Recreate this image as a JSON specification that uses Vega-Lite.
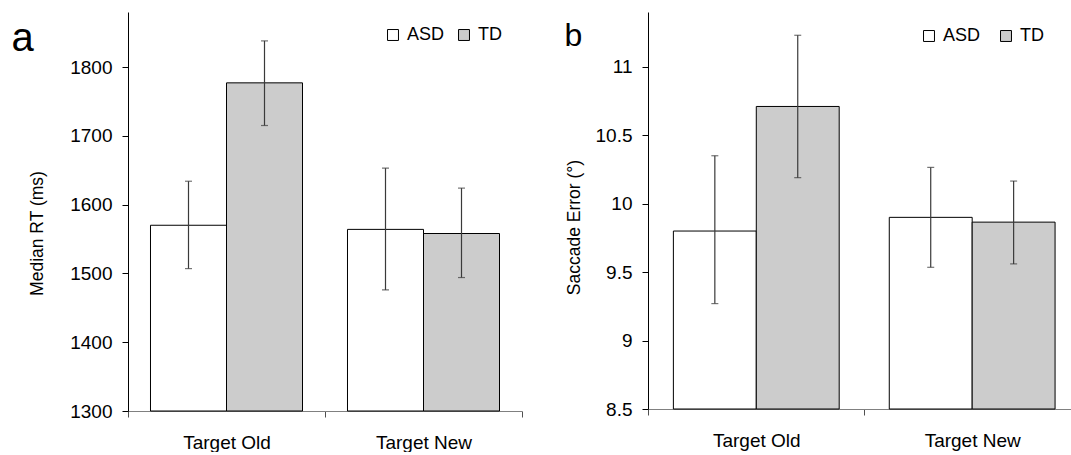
{
  "$schema": "https://vega.github.io/schema/vega-lite/v6.json",
  "padding": {"left": 11, "top": 12, "right": 0, "bottom": 0},
  "spacing": 41,
  "datasets": {
    "rt": [
      {"cond": "Target Old", "group": "ASD", "value": 1570, "lo": 1507, "hi": 1634},
      {"cond": "Target Old", "group": "TD", "value": 1777, "lo": 1715, "hi": 1838},
      {"cond": "Target New", "group": "ASD", "value": 1564, "lo": 1476, "hi": 1653},
      {"cond": "Target New", "group": "TD", "value": 1558, "lo": 1494, "hi": 1624}
    ],
    "se": [
      {"cond": "Target Old", "group": "ASD", "value": 9.80, "lo": 9.27, "hi": 10.35},
      {"cond": "Target Old", "group": "TD", "value": 10.71, "lo": 10.19, "hi": 11.23},
      {"cond": "Target New", "group": "ASD", "value": 9.90, "lo": 9.535, "hi": 10.265},
      {"cond": "Target New", "group": "TD", "value": 9.865, "lo": 9.56, "hi": 10.165}
    ]
  },
  "config": {
    "font": "Liberation Sans",
    "view": {"stroke": null},
    "axis": {
      "labelFont": "Liberation Sans", "labelFontSize": 19, "labelColor": "black",
      "titleFont": "Liberation Sans", "titleFontSize": 17.5, "titleFontWeight": "normal", "titleColor": "black",
      "grid": false, "tickColor": "black", "domainColor": "black", "tickSize": 6
    },
    "axisX": {"labelFontSize": 19},
    "legend": {
      "title": null, "orient": "none", "direction": "horizontal", "symbolType": "square",
      "symbolSize": 120, "symbolStrokeColor": "black", "symbolStrokeWidth": 1,
      "labelFont": "Liberation Sans", "labelFontSize": 18, "labelColor": "black", "labelOffset": 5
    }
  },
  "resolve": {"scale": {"fill": "independent", "xOffset": "independent", "x": "independent", "y": "independent"}, "legend": {"fill": "independent"}},
  "hconcat": [
    {
      "width": 394,
      "height": 399,
      "data": {"name": "rt"},
      "encoding": {
        "xOffset": {"field": "group", "type": "nominal", "sort": ["ASD", "TD"], "scale": {"paddingInner": 0, "paddingOuter": 0.296}}
      },
      "layer": [
        {
          "mark": {"type": "bar", "stroke": "black", "strokeWidth": 1},
          "encoding": {
            "x": {"field": "cond", "type": "nominal", "sort": ["Target Old", "Target New"],
              "scale": {"paddingInner": 0, "paddingOuter": 0},
              "axis": {"orient": "bottom", "title": null, "labelAngle": 0, "domainColor": "#808080", "tickColor": "#505050", "tickBand": "extent", "labelPadding": 16}},
            "y": {"field": "value", "type": "quantitative", "title": "Median RT (ms)",
              "scale": {"domain": [1300, 1880], "nice": false, "zero": false},
              "axis": {"values": [1300, 1400, 1500, 1600, 1700, 1800], "format": "d", "titlePadding": 23, "labelPadding": 10, "titleY": 221}},
            "y2": {"datum": 1300},
            "fill": {"field": "group", "type": "nominal",
              "scale": {"domain": ["ASD", "TD"], "range": ["white", "#cccccc"]},
              "legend": {"legendX": 256, "legendY": 14, "columnPadding": 10}}
          }
        },
        {
          "mark": {"type": "rule", "color": "#3a3a3a", "strokeWidth": 1.2},
          "encoding": {
            "x": {"field": "cond", "type": "nominal", "sort": ["Target Old", "Target New"],
              "axis": {"orient": "top", "domain": false, "ticks": false, "labels": false, "title": "a",
                "titleAngle": 0, "titleX": -117, "titleY": 38, "titleAlign": "left", "titleBaseline": "alphabetic",
                "titleFontSize": 40, "titleFontWeight": "normal", "titleColor": "black"}},
            "y": {"field": "lo", "type": "quantitative", "title": "Median RT (ms)"}, "y2": {"field": "hi"}}
        },
        {
          "mark": {"type": "tick", "orient": "horizontal", "color": "#3a3a3a", "size": 7, "thickness": 1.2},
          "encoding": {
            "x": {"field": "cond", "type": "nominal", "sort": ["Target Old", "Target New"], "axis": null},
            "y": {"field": "lo", "type": "quantitative", "title": "Median RT (ms)"}}
        },
        {
          "mark": {"type": "tick", "orient": "horizontal", "color": "#3a3a3a", "size": 7, "thickness": 1.2},
          "encoding": {
            "x": {"field": "cond", "type": "nominal", "sort": ["Target Old", "Target New"], "axis": null},
            "y": {"field": "hi", "type": "quantitative", "title": "Median RT (ms)"}}
        }
      ]
    },
    {
      "width": 424,
      "height": 397,
      "data": {"name": "se"},
      "encoding": {
        "xOffset": {"field": "group", "type": "nominal", "sort": ["ASD", "TD"], "scale": {"paddingInner": 0, "paddingOuter": 0}}
      },
      "layer": [
        {
          "mark": {"type": "bar", "stroke": "black", "strokeWidth": 1},
          "encoding": {
            "x": {"field": "cond", "type": "nominal", "sort": ["Target Old", "Target New"],
              "scale": {"paddingInner": 0.232, "paddingOuter": 0.098, "align": 0.6},
              "axis": {"orient": "bottom", "title": null, "labelAngle": 0, "domainColor": "#808080", "tickColor": "#505050", "tickOffset": -108, "labelOffset": 108, "labelPadding": 16}},
            "y": {"field": "value", "type": "quantitative", "title": "Saccade Error (°)",
              "scale": {"domain": [8.5, 11.4], "nice": false, "zero": false},
              "axis": {"values": [8.5, 9, 9.5, 10, 10.5, 11], "format": "~g", "titlePadding": 12, "labelPadding": 10, "titleY": 215}},
            "y2": {"datum": 8.5},
            "fill": {"field": "group", "type": "nominal",
              "scale": {"domain": ["ASD", "TD"], "range": ["white", "#cccccc"]},
              "legend": {"legendX": 272, "legendY": 15, "columnPadding": 16}}
          }
        },
        {
          "mark": {"type": "rule", "color": "#3a3a3a", "strokeWidth": 1.2},
          "encoding": {
            "x": {"field": "cond", "type": "nominal", "sort": ["Target Old", "Target New"],
              "axis": {"orient": "top", "domain": false, "ticks": false, "labels": false, "title": "b",
                "titleAngle": 0, "titleX": -84, "titleY": 33, "titleAlign": "left", "titleBaseline": "alphabetic",
                "titleFontSize": 32, "titleFontWeight": "normal", "titleColor": "black"}},
            "y": {"field": "lo", "type": "quantitative", "title": "Saccade Error (°)"}, "y2": {"field": "hi"}}
        },
        {
          "mark": {"type": "tick", "orient": "horizontal", "color": "#3a3a3a", "size": 7, "thickness": 1.2},
          "encoding": {
            "x": {"field": "cond", "type": "nominal", "sort": ["Target Old", "Target New"], "axis": null},
            "y": {"field": "lo", "type": "quantitative", "title": "Saccade Error (°)"}}
        },
        {
          "mark": {"type": "tick", "orient": "horizontal", "color": "#3a3a3a", "size": 7, "thickness": 1.2},
          "encoding": {
            "x": {"field": "cond", "type": "nominal", "sort": ["Target Old", "Target New"], "axis": null},
            "y": {"field": "hi", "type": "quantitative", "title": "Saccade Error (°)"}}
        }
      ]
    }
  ]
}
